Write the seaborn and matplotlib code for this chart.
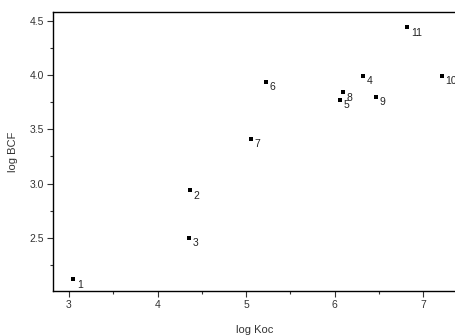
import matplotlib
matplotlib.use("Agg")
import matplotlib.pyplot as plt
import seaborn as sns
import pandas as pd
from matplotlib.ticker import MultipleLocator

sns.set_theme(style="white")
plt.rcParams['font.family'] = ['Liberation Sans', 'DejaVu Sans']

labels = ["1", "2", "3", "4", "5", "6", "7", "8", "9", "10", "11"]
log_koc = [3.05, 4.37, 4.36, 6.32, 6.06, 5.22, 5.05, 6.09, 6.47, 7.21, 6.82]
log_bcf = [2.12, 2.94, 2.50, 3.99, 3.77, 3.94, 3.41, 3.84, 3.80, 3.99, 4.44]

df = pd.DataFrame({"log Koc": log_koc, "log BCF": log_bcf, "label": labels})

fig = plt.figure(figsize=(4.56, 3.36), dpi=100)
ax = fig.add_axes([53/456, 1 - 291/336, 1 - 53/456, (291 - 12)/336])

sns.scatterplot(data=df, x="log Koc", y="log BCF", ax=ax, marker="s", s=5,
                color="black", edgecolor="black", linewidth=0, legend=False)

for _, r in df.iterrows():
    ax.annotate(r["label"], (r["log Koc"], r["log BCF"]), xytext=(2.5, -6),
                textcoords="offset points", fontsize=7.5, color="#222222")

ax.set_xlim(2.82, 7.37)
ax.set_ylim(2.012, 4.58)
ax.xaxis.set_major_locator(MultipleLocator(1))
ax.xaxis.set_minor_locator(MultipleLocator(0.5))
ax.yaxis.set_major_locator(MultipleLocator(0.5))
ax.yaxis.set_minor_locator(MultipleLocator(0.25))
ax.set_yticks([2.5, 3.0, 3.5, 4.0, 4.5])
ax.set_yticklabels(["2.5", "3.0", "3.5", "4.0", "4.5"])

for s in ["left", "bottom", "top"]:
    ax.spines[s].set_color("black")
    ax.spines[s].set_linewidth(1.0)
ax.spines["right"].set_visible(False)

ax.tick_params(which="major", direction="out", length=4, width=0.8, color="#333333",
               labelsize=7.5, labelcolor="#333333", pad=2.5, left=True, bottom=True)
ax.tick_params(which="minor", direction="out", length=2, width=0.8, color="#333333",
               left=True, bottom=True)

ax.set_xlabel("log Koc", fontsize=8, color="#333333", labelpad=11)
ax.set_ylabel("log BCF", fontsize=8, color="#333333", labelpad=8)

fig.savefig("out.png", dpi=100)
